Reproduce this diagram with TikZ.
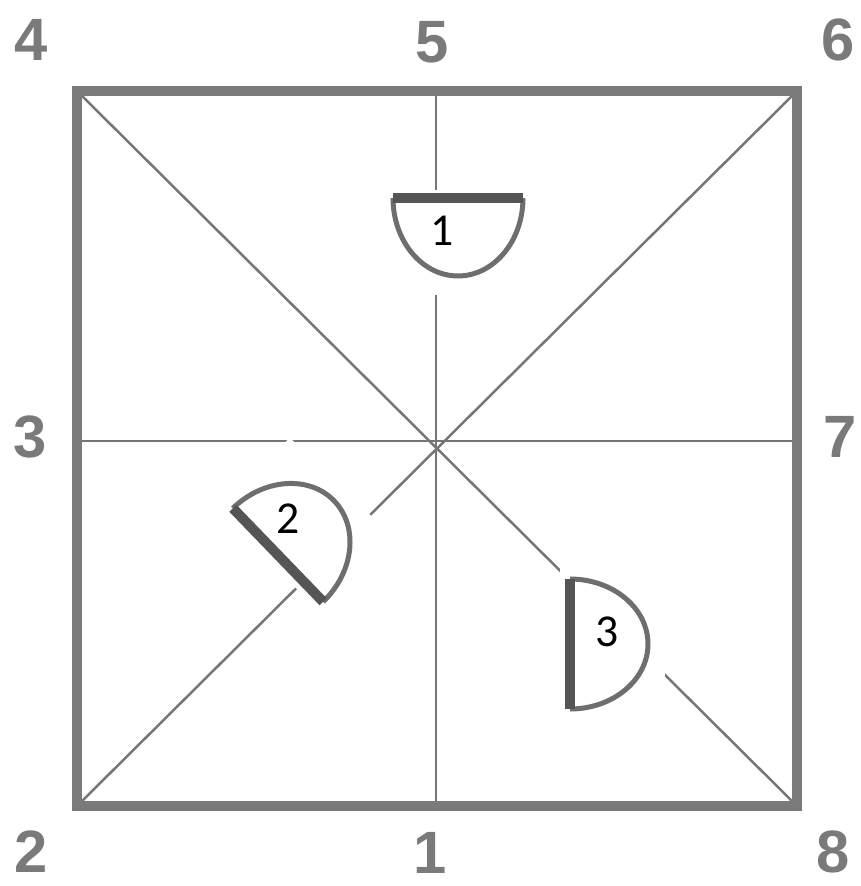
\documentclass[tikz,border=0pt]{standalone}
\usepackage{fontspec}
\setmainfont{Liberation Sans}
\newfontfamily\calib{Carlito}
\usepackage{tikz}
\usetikzlibrary{positioning}
\definecolor{rmgray}{HTML}{7A7A7A}
\definecolor{rmline}{HTML}{767676}
\definecolor{rmdark}{HTML}{555555}

\begin{document}
\begin{tikzpicture}[
    x=0.02cm, y=-0.02cm,
    frame/.style={draw=rmgray, line width=0.2cm},
    guide/.style={draw=rmline, line width=0.05cm},
    corner/.style={text=rmgray, font=\bfseries\fontsize{34}{34}\selectfont, inner sep=0pt},
    seat/.style={font=\calib\fontsize{26}{26}\selectfont, inner sep=0pt},
    patch/.style={fill=white},
    halfdisc/.pic={
      \draw[draw=rmdark!85, line width=0.1cm, fill=white] (-1.3cm,0) arc[start angle=180, end angle=360, x radius=1.3cm, y radius=1.56cm];
      \draw[draw=rmdark, line width=0.2cm] (-1.3cm,0) -- (1.3cm,0);
    }
  ]
    \useasboundingbox (0,0) rectangle (861,886);
    % square and its guides
    \coordinate (nw) at (77,91);
    \coordinate (ne) at (797,91);
    \coordinate (se) at (797,806);
    \coordinate (sw) at (77,806);
    \coordinate (n) at (436,91);
    \coordinate (s) at (436,806);
    \coordinate (w) at (77,441);
    \coordinate (e) at (797,441);
    \draw[guide] (nw) -- (se);
    \draw[guide] (ne) -- (sw);
    \draw[guide] (n) -- (s);
    \draw[guide] (w) -- (e);
    \draw[frame] (nw) rectangle (se);
    % white pads under the seats
    \fill[patch] (365,190) rectangle (540,295);
    \fill[patch] (290,438) -- (412,555) -- (333,627) -- (215,503) -- cycle;
    \fill[patch] (560,565) rectangle (665,737);
    % seats
    \pic (seatA) at (458,198) {halfdisc};
    \pic[rotate=134] (seatB) at (278,555) {halfdisc};
    \pic[rotate=90] (seatC) at (570,644) {halfdisc};
    \node[seat] (s1) at (442,231) {1};
    \node[seat] (s2) at (288,519) {2};
    \node[seat] (s3) at (607,632) {3};
    % directions
    \node[corner] (l4) at (31,40) {4};
    \node[corner] (l5) at (432,42) {5};
    \node[corner] (l6) at (838,40) {6};
    \node[corner] (l3) at (30,437) {3};
    \node[corner] (l7) at (840,437) {7};
    \node[corner] (l2) at (31,852) {2};
    \node[corner] (l1) at (430,853) {1};
    \node[corner] (l8) at (833,852) {8};
  \end{tikzpicture}
\end{document}
